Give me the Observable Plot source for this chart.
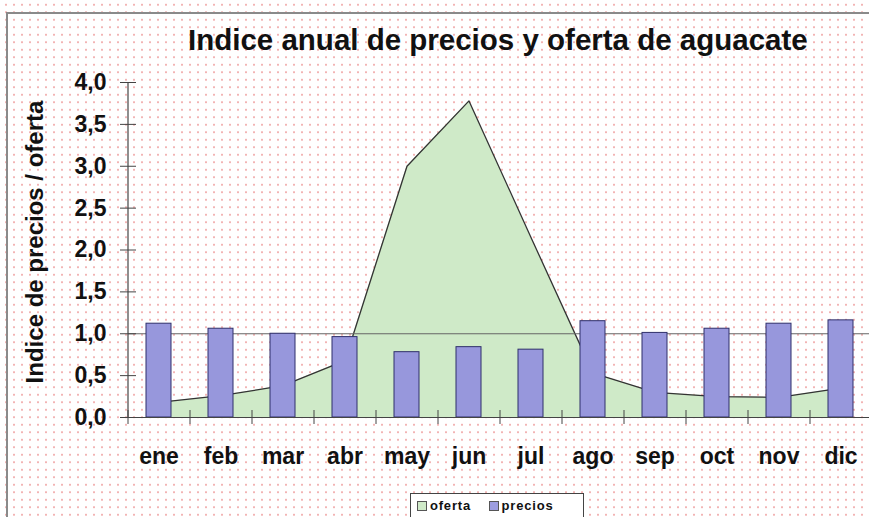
<!DOCTYPE html>
<html>
<head>
<meta charset="utf-8">
<script src="https://cdn.jsdelivr.net/npm/d3@7"></script>
<script src="https://cdn.jsdelivr.net/npm/@observablehq/plot@0.6"></script>
<style>
  html, body { margin: 0; padding: 0; background: #fff; }
  #page {
    position: relative; width: 869px; height: 517px; overflow: hidden;
    font-family: "Liberation Sans", Arial, sans-serif;
    background-color: #fff;
    background-image: radial-gradient(circle, #f2b4b4 0.9px, transparent 1.3px);
    background-size: 8px 7.5px;
    background-position: 2px 1px;
  }
  #frame { position: absolute; left: 6px; top: 12px; width: 900px; height: 600px; border: 2px solid #8a8a8a; box-sizing: border-box; }
  #title { position: absolute; left: 188px; top: 23px; white-space: nowrap; font-weight: bold; font-size: 29.5px; color: #111; }
  #ylabel { position: absolute; left: 35px; top: 242px; transform: translate(-50%, -50%) rotate(-90deg); white-space: nowrap; font-weight: bold; font-size: 24px; color: #111; }
  #chart { position: absolute; left: 0; top: 0; }
  #legend { position: absolute; left: 410px; top: 493px; width: 174px; height: 40px; border: 1px solid #444; box-sizing: border-box; background: #fff; font-size: 13px; font-weight: bold; letter-spacing: 0.8px; color: #111; }
  #legend span.sw { display: inline-block; width: 8px; height: 8px; border: 1px solid #555; vertical-align: -1px; margin-right: 3px; }
  #legend .row { position: absolute; top: 4px; left: 6px; white-space: nowrap; }
</style>
</head>
<body>
<div id="page">
  <div id="frame"></div>
  <div id="title">Indice anual de precios y oferta de aguacate</div>
  <div id="ylabel">Indice de precios / oferta</div>
  <div id="chart"></div>
  <div id="legend"><div class="row"><span class="sw" style="background:#cfeac8"></span>oferta&nbsp;&nbsp;&nbsp;&nbsp;<span class="sw" style="background:#9d9de0"></span>precios</div></div>
</div>
<script>
const meses = ["ene","feb","mar","abr","may","jun","jul","ago","sep","oct","nov","dic"];
const oferta = [0.18, 0.26, 0.38, 0.68, 3.0, 3.78, 2.15, 0.53, 0.30, 0.25, 0.24, 0.35];
const precios = [1.12, 1.06, 1.00, 0.96, 0.78, 0.84, 0.81, 1.15, 1.01, 1.06, 1.12, 1.16];
const yTicks = [0, 0.5, 1, 1.5, 2, 2.5, 3, 3.5, 4];
const referencia = [1.0];

const datos = meses.map((m, i) => ({mes: m, oferta: oferta[i], precios: precios[i]}));
const fmt = d => d.toFixed(1).replace(".", ",");

const chart = Plot.plot({
  width: 872,
  height: 517,
  marginLeft: 128,
  marginRight: 0,
  marginTop: 82,
  marginBottom: 100,
  style: {background: "transparent", overflow: "visible", maxWidth: "none", fontFamily: "Liberation Sans, Arial, sans-serif"},
  x: {domain: meses, paddingInner: 0.59, paddingOuter: 0.295, axis: null},
  y: {domain: [0, 4], axis: null},
  marks: [
    Plot.areaY(datos, {x: "mes", y: "oferta", fill: "#cfeac8"}),
    Plot.lineY(datos, {x: "mes", y: "oferta", stroke: "#333", strokeWidth: 1.3}),
    Plot.ruleY(referencia, {stroke: "#666", strokeWidth: 1.2}),
    Plot.barY(datos, {x: "mes", y: "precios", fill: "#9797dc", stroke: "#2f2f6a", strokeWidth: 1}),
    Plot.ruleY([0], {stroke: "#444", strokeWidth: 1.2}),
    Plot.ruleX([meses[0]], {dx: -31, y1: 0, y2: 4, stroke: "#444", strokeWidth: 1.2}),
    Plot.axisY({ticks: yTicks, label: null, tickSize: 8, tickPadding: 14, tickFormat: fmt, fontSize: 23, fontWeight: "bold", stroke: "#444", fill: "#111"}),
    Plot.axisY({ticks: yTicks, label: null, tickSize: 8, dx: 8, tickFormat: () => "", stroke: "#444"}),
    Plot.axisX({label: null, tickSize: 7, dx: -31, tickFormat: () => "", stroke: "#444"}),
    Plot.axisX({label: null, tickSize: 7, dx: -31, dy: -7, tickFormat: () => "", stroke: "#444"}),
    Plot.axisX({label: null, tickSize: 0, tickPadding: 30, fontSize: 23, fontWeight: "bold", fill: "#111"})
  ]
});
document.getElementById("chart").appendChild(chart);
</script>
</body>
</html>
